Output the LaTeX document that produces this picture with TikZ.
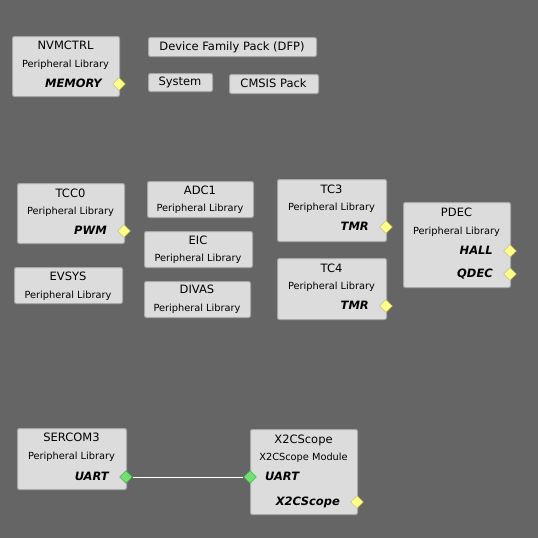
\documentclass[tikz,border=0pt]{standalone}
\usepackage{fontspec}
\setmainfont{DejaVu Sans}
\usetikzlibrary{shapes.geometric}
\definecolor{bgcol}{HTML}{656565}
\definecolor{boxfill}{HTML}{DCDCDC}
\definecolor{boxline}{HTML}{A8A8A8}
\definecolor{pinyellow}{HTML}{FFFF8C}
\definecolor{pinyline}{HTML}{B4B45A}
\definecolor{pingreen}{HTML}{70E070}
\definecolor{pingline}{HTML}{3C9C3C}
\tikzset{
	blk/.style={draw=boxline, fill=boxfill, rounded corners=2pt, line width=1pt, anchor=north west, inner sep=0pt},
	ttl/.style={font=\fontsize{11.5}{13}\selectfont, inner sep=0pt, anchor=mid, yshift=-1pt},
	lib/.style={font=\fontsize{9.8}{11}\selectfont, inner sep=0pt, anchor=mid},
	prt/.style={font=\fontsize{11.5}{13}\selectfont\bfseries\itshape, inner sep=0pt, anchor=mid east, yshift=-1pt},
	pin/.style={diamond, draw=pinyline, fill=pinyellow, minimum width=13pt, minimum height=13pt, inner sep=0pt},
	pinok/.style={pin, draw=pingline, fill=pingreen},
	wire/.style={draw=white, line width=1pt}
}
\begin{document}
\begin{tikzpicture}[x=1pt, y=-1pt]
	\fill[bgcol] (0,0) rectangle (538,538);
	\useasboundingbox (0,0) rectangle (538,538);

	\node[blk, minimum width=107pt, minimum height=60pt] (nvm) at (12,36) {};
	\node[ttl] (nvm-t) at (65.5,46) {NVMCTRL};
	\node[lib] (nvm-l) at (65.5,65) {Peripheral Library};
	\node[prt] (nvm-p) at (102,84) {MEMORY};
	\node[pin] (nvm-mem) at (119,84) {};

	\node[blk, minimum width=168pt, minimum height=19pt] (dfp) at (148,37) {};
	\node[ttl] (dfp-t) at (232,46.5) {Device Family Pack (DFP)};
	\node[blk, minimum width=64pt, minimum height=18pt] (sys) at (148,73) {};
	\node[ttl] (sys-t) at (180,82) {System};
	\node[blk, minimum width=89pt, minimum height=19pt] (cmsis) at (229,74) {};
	\node[ttl] (cmsis-t) at (273.5,83.5) {CMSIS Pack};

	\node[blk, minimum width=107pt, minimum height=60pt] (tcc0) at (17,183) {};
	\node[ttl] (tcc0-t) at (70.5,194) {TCC0};
	\node[lib] (tcc0-l) at (70.5,212) {Peripheral Library};
	\node[prt] (tcc0-p) at (107,231) {PWM};
	\node[pin] (tcc0-pwm) at (124,231) {};

	\node[blk, minimum width=106pt, minimum height=36pt] (adc1) at (147,181) {};
	\node[ttl] (adc1-t) at (200,191) {ADC1};
	\node[lib] (adc1-l) at (200,209) {Peripheral Library};

	\node[blk, minimum width=108pt, minimum height=36pt] (eic) at (144,231) {};
	\node[ttl] (eic-t) at (198,241) {EIC};
	\node[lib] (eic-l) at (198,259) {Peripheral Library};

	\node[blk, minimum width=108pt, minimum height=36pt] (evsys) at (14,267) {};
	\node[ttl] (evsys-t) at (68,277) {EVSYS};
	\node[lib] (evsys-l) at (68,296) {Peripheral Library};

	\node[blk, minimum width=106pt, minimum height=36pt] (divas) at (144,281) {};
	\node[ttl] (divas-t) at (197,290) {DIVAS};
	\node[lib] (divas-l) at (197,309) {Peripheral Library};

	\node[blk, minimum width=109pt, minimum height=62pt] (tc3) at (277,179) {};
	\node[ttl] (tc3-t) at (331.5,190) {TC3};
	\node[lib] (tc3-l) at (331.5,208) {Peripheral Library};
	\node[prt] (tc3-p) at (369,227) {TMR};
	\node[pin] (tc3-tmr) at (386,227) {};

	\node[blk, minimum width=109pt, minimum height=61pt] (tc4) at (277,258) {};
	\node[ttl] (tc4-t) at (331.5,269) {TC4};
	\node[lib] (tc4-l) at (331.5,287) {Peripheral Library};
	\node[prt] (tc4-p) at (369,306) {TMR};
	\node[pin] (tc4-tmr) at (386,306) {};

	\node[blk, minimum width=107pt, minimum height=85pt] (pdec) at (403,202) {};
	\node[ttl] (pdec-t) at (456.5,213) {PDEC};
	\node[lib] (pdec-l) at (456.5,232) {Peripheral Library};
	\node[prt] (pdec-p1) at (493,251) {HALL};
	\node[prt] (pdec-p2) at (493,274) {QDEC};
	\node[pin] (pdec-hall) at (510,251) {};
	\node[pin] (pdec-qdec) at (510,274) {};

	\node[blk, minimum width=109pt, minimum height=61pt] (sercom3) at (17,428) {};
	\node[ttl] (sercom3-t) at (71.5,438) {SERCOM3};
	\node[lib] (sercom3-l) at (71.5,457) {Peripheral Library};
	\node[prt] (sercom3-p) at (109,477) {UART};
	\node[pinok] (sercom3-uart) at (126,477) {};

	\node[blk, minimum width=107pt, minimum height=85pt] (x2c) at (250,429) {};
	\node[ttl] (x2c-t) at (303.5,440) {X2CScope};
	\node[lib] (x2c-l) at (303.5,458) {X2CScope Module};
	\node[prt, anchor=mid west] (x2c-p1) at (265,477) {UART};
	\node[prt] (x2c-p2) at (340,502) {X2CScope};
	\node[pinok] (x2c-uart) at (250,477) {};
	\node[pin] (x2c-out) at (357,502) {};

	\path[wire] (sercom3-uart) -- (x2c-uart);
\end{tikzpicture}
\end{document}
